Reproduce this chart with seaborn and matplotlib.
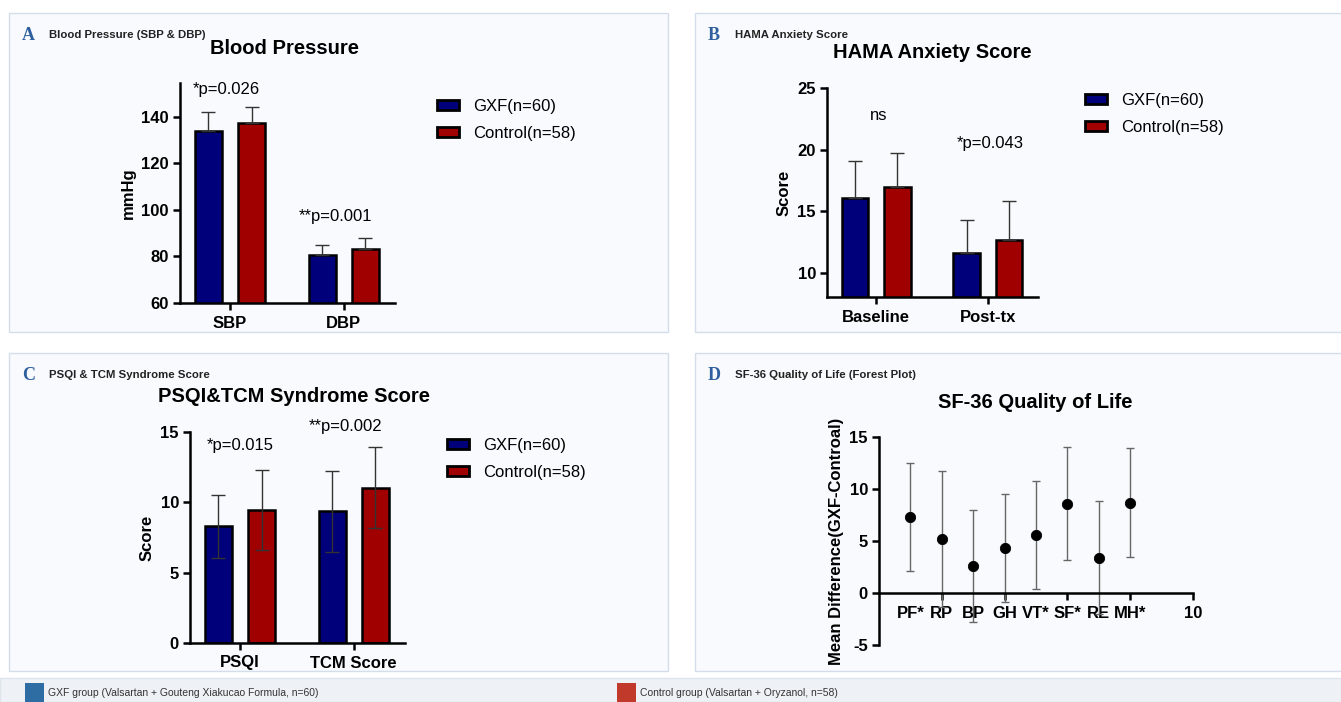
import numpy as np
import pandas as pd
import matplotlib.pyplot as plt
import seaborn as sns
from matplotlib.patches import Rectangle, Patch

# ---- data ----
groups = ['GXF(n=60)', 'Control(n=58)']

bp_items = ['SBP', 'DBP']
bp_gxf = [134.0, 80.8]
bp_gxf_sd = [8.2, 4.0]
bp_ctrl = [137.2, 83.3]
bp_ctrl_sd = [7.0, 4.5]
bp_p = ['*p=0.026', '**p=0.001']

hama_items = ['Baseline', 'Post-tx']
hama_gxf = [16.1, 11.6]
hama_gxf_sd = [3.0, 2.7]
hama_ctrl = [17.0, 12.7]
hama_ctrl_sd = [2.7, 3.15]
hama_p = ['ns', '*p=0.043']

psqi_items = ['PSQI', 'TCM Score']
psqi_gxf = [8.3, 9.35]
psqi_gxf_sd = [2.25, 2.85]
psqi_ctrl = [9.45, 11.05]
psqi_ctrl_sd = [2.85, 2.9]
psqi_p = ['*p=0.015', '**p=0.002']

sf_items = ['PF*', 'RP', 'BP', 'GH', 'VT*', 'SF*', 'RE', 'MH*']
sf_md = [7.3, 5.2, 2.6, 4.3, 5.6, 8.6, 3.4, 8.7]
sf_lo = [2.1, -1.3, -2.8, -0.9, 0.4, 3.2, -2.0, 3.5]
sf_hi = [12.5, 11.7, 8.0, 9.5, 10.8, 14.0, 8.8, 13.9]

NAVY = '#00007a'
RED = '#a00000'
CARD = '#f8fafd'
CARD_EDGE = '#d3deea'
LETTER = '#2f5f9f'

sns.set_style('ticks')
plt.rcParams['font.family'] = ['Liberation Sans', 'DejaVu Sans']
plt.rcParams['axes.unicode_minus'] = False
for k in ['text.color', 'axes.labelcolor', 'xtick.color', 'ytick.color', 'axes.edgecolor']:
    plt.rcParams[k] = 'black'

W, H = 1341, 702
fig = plt.figure(figsize=(W / 100, H / 100), dpi=100)
fig.patch.set_facecolor('white')


def px(x, y):
    return x / W, 1 - y / H


def rect_px(x0, y0, x1, y1):
    return [x0 / W, 1 - y1 / H, (x1 - x0) / W, (y1 - y0) / H]


def card(x0, y0, x1, y1, letter, sub):
    r = Rectangle((x0 / W, 1 - y1 / H), (x1 - x0) / W, (y1 - y0) / H,
                  transform=fig.transFigure, facecolor=CARD, edgecolor=CARD_EDGE,
                  linewidth=1, zorder=-2)
    fig.patches.append(r)
    fig.text(*px(x0 + 13, y0 + 22), letter, family='Liberation Serif', fontsize=13,
             fontweight='bold', color=LETTER, va='center')
    fig.text(*px(x0 + 40, y0 + 22), sub, fontsize=8.2, fontweight='bold',
             color='#222222', va='center')


def style_axes(ax, ylabel):
    ax.set_facecolor('none')
    sns.despine(ax=ax)
    for s in ['left', 'bottom']:
        ax.spines[s].set_linewidth(1.8)
    ax.tick_params(length=5, width=1.8, labelsize=12, pad=3)
    ax.tick_params(axis='x', pad=4)
    ax.set_xlabel('')
    ax.set_ylabel(ylabel, fontsize=12, fontweight='bold')


def bold_ticks(ax):
    plt.setp(ax.get_xticklabels(), fontweight='bold')
    plt.setp(ax.get_yticklabels(), fontweight='bold')


def bar_panel(rect, items, gxf, gxf_sd, ctrl, ctrl_sd, ylim, yticks, ylabel,
              both_sides, ptext, ppos, legend_xy):
    ax = fig.add_axes(rect)
    df = pd.DataFrame({'item': items * 2,
                       'group': [groups[0]] * len(items) + [groups[1]] * len(items),
                       'value': gxf + ctrl})
    sns.barplot(data=df, x='item', y='value', hue='group', palette=[NAVY, RED],
                saturation=1, width=0.76, gap=0.37, edgecolor='black', linewidth=1.8,
                errorbar=None, legend=False, ax=ax)
    sds = gxf_sd + ctrl_sd
    for bar, sd in zip(ax.patches, sds):
        xc = bar.get_x() + bar.get_width() / 2
        h = bar.get_height()
        lower = sd if both_sides else 0
        ax.errorbar(xc, h, yerr=[[lower], [sd]], fmt='none', ecolor='#333333',
                    elinewidth=1, capsize=5, capthick=1, zorder=3)
    ax.set_xlim(-0.44, 1.45)
    ax.set_ylim(*ylim)
    ax.set_yticks(yticks)
    style_axes(ax, ylabel)
    bold_ticks(ax)
    for t, (xx, yy) in zip(ptext, ppos):
        ax.text(xx, yy, t, ha='center', va='center', fontsize=12, clip_on=False)
    handles = [Patch(facecolor=NAVY, edgecolor='black', linewidth=2),
               Patch(facecolor=RED, edgecolor='black', linewidth=2)]
    ax.legend(handles, groups, loc='upper left', bbox_to_anchor=px(*legend_xy),
              bbox_transform=fig.transFigure, frameon=False, fontsize=12,
              borderpad=0, borderaxespad=0, handlelength=1.3, handleheight=0.6,
              handletextpad=0.85, labelspacing=0.72)
    return ax


# ---- cards ----
card(9, 13, 668, 332, 'A', 'Blood Pressure (SBP & DBP)')
card(695, 13, 1345, 332, 'B', 'HAMA Anxiety Score')
card(9, 353, 668, 671, 'C', 'PSQI & TCM Syndrome Score')
card(695, 353, 1345, 671, 'D', 'SF-36 Quality of Life (Forest Plot)')

# ---- A ----
bar_panel(rect_px(180, 83, 395, 303), bp_items, bp_gxf, bp_gxf_sd, bp_ctrl, bp_ctrl_sd,
          (60, 154.6), [60, 80, 100, 120, 140], 'mmHg', False,
          bp_p, [(-0.03, 152), (0.93, 97.4)], (437, 99))
fig.text(*px(284, 48), 'Blood Pressure', ha='center', va='center', fontsize=14.5,
         fontweight='bold')

# ---- B ----
bar_panel(rect_px(827, 88, 1038, 297), hama_items, hama_gxf, hama_gxf_sd, hama_ctrl,
          hama_ctrl_sd, (8.05, 25), [10, 15, 20, 25], 'Score', False,
          hama_p, [(0.02, 22.8), (1.02, 20.5)], (1085, 93))
fig.text(*px(932, 53), 'HAMA Anxiety Score', ha='center', va='center', fontsize=14.5,
         fontweight='bold')

# ---- C ----
bar_panel(rect_px(190, 432, 405, 643), psqi_items, psqi_gxf, psqi_gxf_sd, psqi_ctrl,
          psqi_ctrl_sd, (0, 15), [0, 5, 10, 15], 'Score', True,
          psqi_p, [(0.0, 14.07), (0.93, 15.4)], (447, 438))
fig.text(*px(294, 397), 'PSQI&TCM Syndrome Score', ha='center', va='center',
         fontsize=14.5, fontweight='bold')

# ---- D ----
axd = fig.add_axes(rect_px(879, 437, 1193, 645))
pos = np.arange(1, len(sf_items) + 1)
md = np.array(sf_md)
axd.errorbar(pos, md, yerr=[md - np.array(sf_lo), np.array(sf_hi) - md], fmt='none',
             ecolor='#666666', elinewidth=1, capsize=3, capthick=1, zorder=2)
sns.scatterplot(x=pos, y=md, color='black', s=55, edgecolor='black', zorder=3,
                legend=False, ax=axd)
axd.set_xlim(0, 10)
axd.set_ylim(-5, 15)
style_axes(axd, 'Mean Difference(GXF-Controal)')
axd.spines['bottom'].set_position(('data', 0))
axd.set_yticks([-5, 0, 5, 10, 15])
axd.set_xticks(list(pos) + [10])
axd.set_xticklabels(sf_items + ['10'])
bold_ticks(axd)
for i, tk in enumerate(axd.xaxis.get_major_ticks()):
    if i in (0, 2, 4, 6):
        tk.tick1line.set_visible(False)
fig.text(*px(1035, 402), 'SF-36 Quality of Life', ha='center', va='center',
         fontsize=14.5, fontweight='bold')

# ---- bottom legend strip ----
fig.patches.append(Rectangle((0, 0), 1, 24 / H, transform=fig.transFigure,
                             facecolor='#eef2f6', edgecolor='#dde4ec', linewidth=1,
                             zorder=-2))
fig.patches.append(Rectangle(px(25, 702), 19 / W, 19 / H, transform=fig.transFigure,
                             facecolor='#2e6da4', edgecolor='none', zorder=-1))
fig.patches.append(Rectangle(px(617, 702), 19 / W, 19 / H, transform=fig.transFigure,
                             facecolor='#c0392b', edgecolor='none', zorder=-1))
fig.text(*px(48, 693), 'GXF group (Valsartan + Gouteng Xiakucao Formula, n=60)',
         fontsize=7.5, color='#333333', va='center')
fig.text(*px(640, 693), 'Control group (Valsartan + Oryzanol, n=58)',
         fontsize=7.5, color='#333333', va='center')

fig.savefig('out.png', dpi=100)
